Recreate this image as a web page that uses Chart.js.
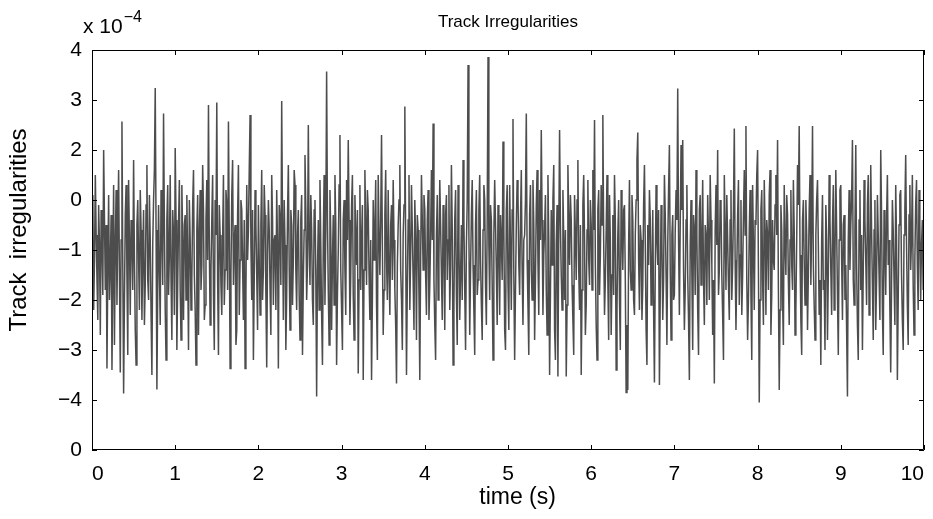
<!DOCTYPE html>
<html>
<head>
<meta charset="utf-8">
<script src="https://cdn.jsdelivr.net/npm/chart.js@4.4.1/dist/chart.umd.min.js"></script>
<style>
  html, body { margin: 0; padding: 0; background: #fff; }
  #wrap { width: 933px; height: 519px; }
</style>
</head>
<body>
<div id="wrap"><canvas id="track_irregularities_chart_area"></canvas></div>
<script>
// time step of the record (s)
const timeStep = 0.01;

// track irregularity samples (axis units, one row = 0.2 s)
const irregularity = [
  // 0 - 1 s
  0.4, 1.1, -1.2, -0.2, 1.5, 0.3, -0.6, -1.4, 0.9, 0.1, -1.7, 0.8, 0.2, -0.9, 2.0, 0.6, -0.8, 0.5, -2.37, -0.4,
  1.1, -1.0, -0.3, 0.7, -2.4, -0.6, 1.3, -1.9, 0.1, 1.2, -1.1, 0.4, 1.6, -0.5, -2.45, 0.2, 2.57, -0.3, -2.87, -1.0,
  0.7, 1.3, -0.5, -2.1, 1.4, 0.2, -1.3, 0.6, 0.3, -0.8, 1.8, -0.2, -1.6, -2.3, 0.5, 1.0, -0.2, -1.2, 1.2, 0.4,
  -1.4, -0.1, 0.8, -1.5, -0.7, 0.9, 1.7, -0.6, -1.0, 1.1, 0.2, -1.3, -2.5, 0.1, 1.0, 1.6, 3.24, 0.4, -2.79, -0.8,
  0.9, -0.4, -1.5, 1.2, 0.4, -0.7, 2.73, 0.5, -1.2, -2.2, 0.6, 1.3, -0.9, -0.1, 1.5, -0.6, -1.8, 0.8, 0.3, -1.3,
  // 1 - 2 s
  2.04, 0.6, -2.0, -0.7, 0.5, 1.4, -0.8, -1.8, 1.3, 0.2, -1.4, 0.5, 0.7, -1.0, 1.1, -0.3, -2.0, 1.0, 0.2, -1.2,
  -0.6, 0.9, 1.6, -0.5, -1.2, -2.3, 0.4, 1.1, -1.7, 0.3, 1.2, -0.8, -0.3, 1.7, 0.8, -1.4, -1.1, 0.6, 1.4, -0.2,
  2.9, 0.1, -1.5, -0.4, 0.6, 1.5, -0.9, -2.0, 1.0, 0.3, 2.95, -0.6, -2.1, 0.9, 0.3, -0.7, -1.3, 0.2, 1.5, -1.1,
  -0.4, 1.2, 0.9, -0.8, 2.57, 0.3, -2.37, -0.5, 1.1, 1.8, -0.7, 0.2, 0.5, -1.9, -1.6, 0.7, 1.7, -1.3, -0.2, 1.0,
  0.8, -0.3, -1.4, 0.6, -2.37, -0.9, 1.3, -0.2, 0.4, 1.6, 2.7, 0.1, -1.0, 0.8, -2.2, -0.6, 1.2, 0.5, -0.5, -1.6,
  // 2 - 3 s
  0.9, -0.2, -1.3, 0.5, 1.6, -1.0, -0.4, 1.3, 0.7, -0.9, -2.35, -0.1, 1.0, 0.4, -0.8, -1.7, 1.5, 0.6, -1.1, 0.2,
  0.3, -1.2, 1.2, 0.1, -2.37, 0.9, 0.6, -0.7, 2.98, 0.5, -1.4, 1.0, 0.1, -2.0, -0.9, 0.7, 1.7, -0.3, -1.6, 0.8,
  0.5, -1.1, -0.2, 1.6, 1.3, -0.4, -1.2, 0.3, 0.8, -0.9, -1.8, 0.6, 1.1, -2.1, -0.6, 0.4, 1.9, 0.8, -1.0, -0.3,
  2.5, 0.2, -0.7, 1.1, 0.4, -1.0, -1.5, 0.8, 1.0, -0.5, -2.93, -0.4, 0.6, -1.2, 1.4, 0.1, -1.3, -2.3, 0.2, 1.5,
  -1.1, 0.4, 3.57, 0.6, -0.8, -1.9, 1.2, 0.3, -1.6, -0.2, 0.7, -1.1, 1.5, 0.5, -2.3, -0.9, 0.0, 1.3, 2.3, -0.4,
  // 3 - 4 s
  -1.2, -2.0, 0.6, 1.0, -0.4, -1.3, 1.4, 0.2, 2.2, 0.6, -1.5, -0.5, 0.9, 1.5, -0.9, -1.8, 1.1, 0.3, -0.3, 0.8,
  -2.47, -0.6, 1.3, -0.8, 0.2, 0.9, -2.6, -0.4, 1.6, 0.5, -0.7, 1.2, 0.8, -0.5, -1.4, 0.2, -2.6, -1.0, 1.0, -0.2,
  0.4, 1.4, -1.1, -2.2, 1.5, 0.3, -0.5, 0.6, 2.3, 0.1, -1.7, -0.8, 0.7, 1.6, -0.2, -1.0, 1.2, -0.4, -1.3, 0.5,
  0.9, -0.6, 1.4, 0.2, -0.8, -1.5, -2.67, -0.3, 0.5, 1.0, 1.7, -0.4, -1.0, -2.0, 0.3, 0.9, 2.87, 0.2, -2.5, -0.7,
  0.6, 1.5, -1.2, -0.1, 1.3, 0.4, -0.6, -1.6, 1.0, 0.2, -1.8, 0.7, 0.4, -0.9, -2.6, -0.2, 1.5, 0.6, -0.4, 1.1,
  // 4 - 5 s
  0.8, -0.5, -1.3, 0.6, 1.2, -1.4, -0.7, 0.3, 1.6, 0.2, 2.53, -0.6, -1.5, -2.2, 0.3, 1.1, -1.0, -0.2, 1.4, 0.5,
  -0.5, -1.4, 0.9, 0.1, -1.6, 0.7, 1.1, -0.6, 0.2, 1.3, -1.2, -0.3, 1.7, 0.4, -2.3, -1.1, 0.6, 1.2, -0.9, -1.9,
  1.3, 0.2, -1.4, -0.5, 0.5, -1.0, 1.8, 0.6, -0.8, -2.0, 0.1, 1.0, 3.7, 0.3, -1.7, -0.4, 0.7, 1.4, -0.3, -1.2,
  -2.1, 0.5, 1.2, -0.9, -0.6, 0.8, 1.5, -0.2, -1.1, -1.8, 0.4, 1.3, 1.0, -0.7, -1.5, 0.6, 3.86, 0.1, -1.0, 0.9,
  0.6, -0.7, -2.2, 0.3, 1.4, 0.5, -0.4, -1.5, 0.9, 0.1, -1.3, 0.7, 0.2, -0.6, 2.17, 0.4, -1.6, -2.0, 0.8, 1.3,
  // 5 - 6 s
  -0.7, -1.6, 1.3, 0.1, -1.2, 0.8, 2.62, -0.5, -2.2, -0.8, 0.5, 1.4, 1.1, -0.3, -0.9, 0.6, 1.6, -0.4, -1.5, 0.2,
  0.3, 1.0, 2.73, -0.2, -1.1, -2.1, 0.7, 1.3, -0.4, -1.0, 1.4, 0.5, -1.8, -0.6, 0.9, 1.6, -0.2, -1.3, 1.2, 0.2,
  2.4, 0.6, -1.3, -0.1, 0.4, 1.1, -0.8, -1.7, 1.5, 0.2, -2.5, -0.9, 0.8, -0.3, 1.0, 1.7, -1.6, -2.2, 0.1, 0.9,
  -2.53, 0.3, 2.4, 0.5, -0.5, -1.2, 1.2, 0.2, -1.0, 0.4, -2.53, -1.1, 1.7, 0.6, -0.3, 1.1, 0.6, -0.7, -1.4, -2.1,
  1.1, 0.3, -0.6, 1.0, 1.8, -0.4, -1.2, 0.5, -2.5, -0.8, 0.9, 1.5, 0.2, -1.7, -1.1, 0.4, 1.4, -0.2, -0.7, 1.0,
  // 6 - 7 s
  0.5, -0.8, 1.6, 0.4, 2.6, -0.3, -1.5, -2.2, 0.8, 1.2, -0.9, -0.1, 1.3, 0.5, 2.7, 0.2, -1.3, -0.6, 0.4, 1.5,
  -0.6, -1.8, 1.1, 0.2, -1.7, -0.5, 0.7, -0.9, 1.5, 0.6, -2.4, -1.2, 0.3, 1.0, -1.0, -2.0, 1.2, 0.4, -0.4, 0.8,
  0.9, -0.6, -2.85, -1.5, -2.8, 0.1, 1.4, -0.4, -0.8, 1.1, 0.6, -1.0, -1.3, 0.3, 1.0, 1.8, 2.35, -0.2, -1.2, 0.5,
  0.2, -1.4, -0.7, 0.9, 1.7, 0.1, -1.6, -2.3, 0.5, -0.3, 1.2, 0.6, -1.1, -0.5, 0.8, -1.2, -2.65, -0.4, 1.3, 0.2,
  -0.3, 0.8, -2.7, -0.9, 0.9, 0.2, -1.4, -0.6, 1.5, 0.7, -0.5, -1.9, 0.1, 1.2, 2.1, -0.4, -1.8, 0.3, 0.7, -1.0,
  // 7 - 8 s
  -0.9, 0.4, 1.2, 0.6, 3.23, 0.2, -1.3, 0.5, 2.1, 0.8, 2.2, -0.4, -1.6, -0.8, 0.6, 1.3, -0.5, -1.4, -2.6, 0.1,
  1.0, -0.5, -2.0, 0.7, 0.4, -0.9, 1.6, 0.3, -1.2, -2.1, 0.8, 1.1, -0.7, 0.2, 1.4, -0.6, -1.5, 0.5, 0.3, -1.1,
  1.1, 0.2, -1.0, 1.5, 0.6, -0.3, -1.7, -0.6, -2.67, 0.4, 1.3, 0.1, 2.0, -0.9, -0.4, 1.0, 0.9, -0.5, -1.3, -2.2,
  1.5, 0.4, -0.8, 1.1, 0.2, -0.7, -1.4, 0.6, 1.2, -1.0, -0.3, 0.8, 2.43, -0.2, -1.6, -0.4, 0.7, 1.4, -1.1, -0.1,
  1.0, -1.3, -0.5, 0.7, 1.6, 0.3, 2.48, -0.6, -1.8, -1.0, 0.4, 1.2, -0.9, -2.2, 1.3, 0.1, -1.2, 0.6, 0.5, 1.5,
  // 8 - 9 s
  2.0, -0.4, -3.05, -1.0, 0.8, 1.2, -0.6, -1.5, 1.4, 0.4, -1.3, 0.6, 0.3, -0.8, 1.1, 1.6, -1.7, -0.9, 0.6, -0.2,
  -0.4, 0.9, 1.5, 0.3, 2.2, -0.8, -2.8, -1.2, 0.9, 0.4, -1.0, -1.9, 1.3, 0.1, -0.5, 1.1, 0.7, -0.6, -1.5, 0.2,
  1.2, -0.3, -0.8, 1.4, 0.4, -1.7, -1.2, 0.2, 1.7, 0.9, 2.48, -0.1, -1.4, -2.1, 0.6, 1.0, -0.2, -1.1, 1.0, 0.3,
  -1.6, -0.5, 0.8, 1.5, -0.7, 0.4, 2.48, -0.3, -1.1, -1.8, 0.3, 1.0, 1.4, 0.1, -1.3, -0.6, -2.3, 0.2, 1.1, -0.8,
  -0.6, -2.0, 0.9, 0.2, -1.8, -0.5, 1.5, 0.6, -0.4, -1.3, 0.5, 1.3, -1.2, -0.2, 1.6, 0.4, -0.9, -2.1, 0.2, 1.2,
  // 9 - 10 s
  1.3, -0.2, -1.4, 0.5, 0.7, -1.0, -0.3, -1.6, -2.93, 0.2, 1.2, -0.4, 0.5, 1.0, 2.2, -0.6, -1.1, 0.4, 2.1, -0.3,
  -1.5, -2.2, 0.6, 1.2, -0.8, 0.3, -2.0, -0.4, 1.4, 0.6, -0.2, -1.1, 0.9, 1.5, -1.3, -0.5, 1.7, 0.4, -0.7, -1.8,
  0.4, 1.0, -1.6, -0.6, 1.1, 0.3, -0.5, -1.4, 2.0, 0.7, -1.2, -2.1, 0.8, 0.1, -0.9, 0.6, 1.5, -0.3, 0.2, -1.2,
  -2.45, -0.7, 1.0, 0.4, -0.6, -1.5, 1.3, 0.2, -2.6, -1.0, 0.5, 1.1, 1.2, -0.5, -1.4, -2.0, 0.3, 0.8, 1.9, 0.1,
  -1.1, -1.9, 0.7, 1.3, -0.4, 0.2, 1.5, -0.7, -1.7, -0.2, 0.9, 1.4, -0.3, -1.2, 1.2, 0.5, -1.0, 0.1, 0.6, -0.8,
  1.6
];

// tick labels as printed on the left axis, bottom to top
const yTickLabels = ["0", "\u22124", "\u22123", "\u22122", "\u22121", "0", "2", "3", "4"];

const points = irregularity.map((v, i) => ({ x: i * timeStep, y: v }));

// box round the plot with inward ticks, plus the exponent note
const matlabBox = {
  id: "matlabBox",
  afterDatasetsDraw(chart) {
    const { ctx, chartArea: a, scales } = chart;
    const tl = 5;
    ctx.save();
    ctx.strokeStyle = "#000";
    ctx.lineWidth = 1;
    ctx.beginPath();
    ctx.rect(a.left + 0.5, a.top + 0.5, a.right - a.left - 1, a.bottom - a.top - 1);
    scales.x.ticks.forEach((t) => {
      const px = Math.round(scales.x.getPixelForValue(t.value)) + 0.5;
      ctx.moveTo(px, a.bottom); ctx.lineTo(px, a.bottom - tl);
      ctx.moveTo(px, a.top); ctx.lineTo(px, a.top + tl);
    });
    scales.y.ticks.forEach((t) => {
      const py = Math.round(scales.y.getPixelForValue(t.value)) + 0.5;
      ctx.moveTo(a.left, py); ctx.lineTo(a.left + tl, py);
      ctx.moveTo(a.right, py); ctx.lineTo(a.right - tl, py);
    });
    ctx.stroke();

    ctx.fillStyle = "#000";
    ctx.textBaseline = "alphabetic";
    ctx.textAlign = "left";
    ctx.font = '21px "Liberation Sans", Arial, sans-serif';
    ctx.fillText("x 10", 83, 33);
    const w = ctx.measureText("x 10").width;
    ctx.font = '16px "Liberation Sans", Arial, sans-serif';
    ctx.fillText("\u22124", 83 + w + 1, 22);
    ctx.restore();
  },
};

const ctxArea = document.getElementById("track_irregularities_chart_area").getContext("2d");
const track_irregularities_chart = new Chart(ctxArea, {
  type: "line",
  data: {
    datasets: [
      {
        label: "track irregularities",
        data: points,
        borderColor: "#4d4d4d",
        borderWidth: 1.5,
        pointRadius: 0,
        tension: 0,
        fill: false,
      },
    ],
  },
  options: {
    responsive: true,
    maintainAspectRatio: false,
    animation: false,
    layout: { padding: { left: 0, right: 9, top: 0, bottom: 0 } },
    plugins: {
      legend: { display: false },
      tooltip: { enabled: false },
      title: {
        display: true,
        fullSize: false,
        text: "Track Irregularities",
        color: "#000",
        font: { family: '"Liberation Sans", Arial, sans-serif', size: 17, weight: "normal" },
        padding: { top: 12, bottom: 17.6 },
      },
    },
    scales: {
      x: {
        type: "linear",
        min: 0,
        max: 10,
        grid: { display: false, drawTicks: false },
        border: { display: false },
        ticks: {
          stepSize: 1,
          color: "#000",
          padding: 12,
          maxRotation: 0,
          align: "inner",
          font: { family: '"Liberation Sans", Arial, sans-serif', size: 21 },
        },
        title: {
          display: true,
          text: "   time (s)",
          color: "#000",
          font: { family: '"Liberation Sans", Arial, sans-serif', size: 23 },
          padding: { top: 0, bottom: 8 },
        },
        afterFit(scale) {
          scale.height = 69;
          scale.paddingLeft = 0;
          scale.paddingRight = 0;
        },
      },
      y: {
        min: -4,
        max: 4,
        grid: { display: false, drawTicks: false },
        border: { display: false },
        ticks: {
          stepSize: 1,
          color: "#000",
          padding: 10,
          font: { family: '"Liberation Sans", Arial, sans-serif', size: 21 },
          callback: (v) => yTickLabels[Math.round(v) + 4],
        },
        title: {
          display: true,
          text: "      Track  irregularities",
          color: "#000",
          font: { family: '"Liberation Sans", Arial, sans-serif', size: 24 },
          padding: { top: 5, bottom: 0 },
        },
        afterFit(scale) {
          scale.width = 92;
          scale.paddingTop = 0;
          scale.paddingBottom = 0;
        },
      },
    },
  },
  plugins: [matlabBox],
});
</script>
</body>
</html>
